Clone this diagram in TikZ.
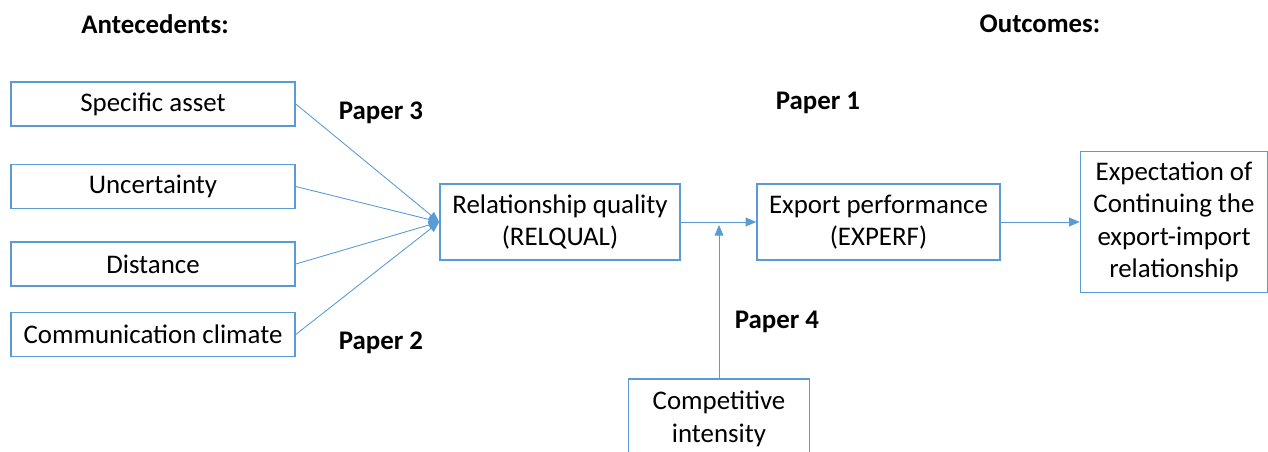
\documentclass[tikz,border=0pt]{standalone}
\usepackage{fontspec}
\setmainfont{Carlito}
\usetikzlibrary{arrows.meta}
\definecolor{boxblue}{HTML}{5B9BD5}
\tikzset{
  boite/.style={draw=boxblue, line width=0.9pt, align=center, inner sep=0pt,
    font=\fontsize{15.3}{18.5}\selectfont},
  gauche/.style={boite, minimum width=5.68cm, minimum height=0.88cm},
  milieu/.style={boite, minimum width=4.8cm, minimum height=1.52cm},
  fleche/.style={draw=boxblue, line width=0.5pt, -{Triangle[length=6pt,width=5pt]}},
  titre/.style={font=\fontsize{15.3}{18.5}\selectfont\bfseries},
}
\begin{document}
\begin{tikzpicture}[x=0.02cm, y=-0.02cm]
\clip (0,0) rectangle (1268,452);
\node[titre] (ante) at (155,24) {Antecedents:};
\node[titre] (outc) at (1040,24) {Outcomes:};
% antecedents
\node[gauche] (sa) at (153,104) {Specific asset};
\node[gauche] (un) at (153,186.5) {Uncertainty};
\node[gauche] (di) at (153,264) {Distance};
\node[gauche] (cc) at (153,334.5) {Communication climate};
% relationship and performance
\node[milieu] (rq) at (560,222) {Relationship quality\\(RELQUAL)};
\node[milieu, minimum width=4.86cm] (ep) at (878.5,222) {Export performance\\(EXPERF)};
\node[boite, minimum width=3.74cm, minimum height=2.82cm] (ex) at (1174,222)
  {Expectation of\\Continuing the\\export-import\\relationship};
\node[boite, minimum width=3.62cm, minimum height=1.6cm] (ci) at (719,419)
  {Competitive\\intensity}; % bas coupé par le cadre
\node[titre] (p3) at (381,113) {Paper 3};
\node[titre] (p2) at (381,343) {Paper 2};
\node[titre] (p1) at (818,103) {Paper 1};
\node[titre] (p4) at (777,322) {Paper 4};
\coordinate (mod) at (719,225);
\draw[fleche] (sa.east) -- (rq.west);
\draw[fleche] (un.east) -- (rq.west);
\draw[fleche] (di.east) -- (rq.west);
\draw[fleche] (cc.east) -- (rq.west);
\draw[fleche] (rq.east) -- (ep.west);
\draw[fleche] (ep.east) -- (ex.west);
\draw[fleche] (ci.north) -- (mod);
\end{tikzpicture}
\end{document}
